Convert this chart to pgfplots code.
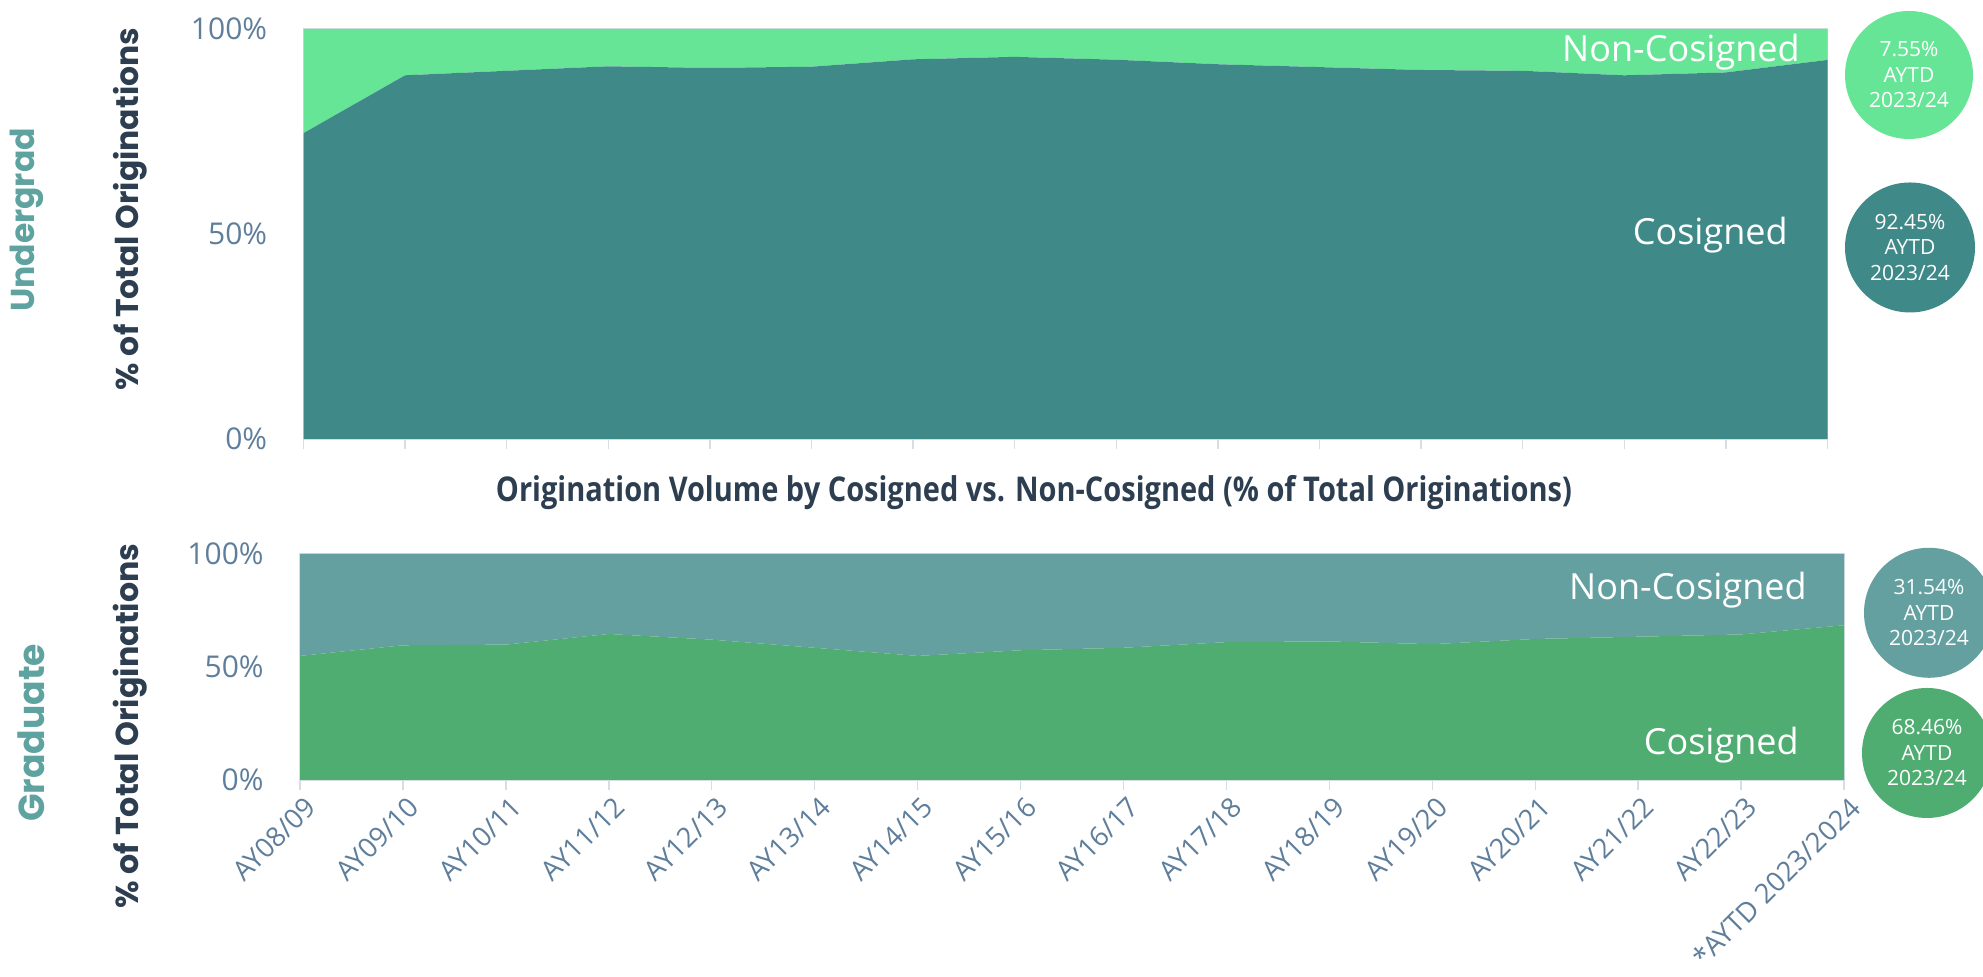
\documentclass[border=0pt]{standalone}
\usepackage{pgfplots}
\pgfplotsset{compat=1.18}
\usepackage{fontspec}
\setmainfont{Open Sans}
\newfontfamily\headfont{Open Sans}[FakeStretch=0.85]
\newfontfamily\sidefont{Poppins}
\definecolor{ncTop}{HTML}{67E597}
\definecolor{cTop}{HTML}{3F8989}
\definecolor{ncBot}{HTML}{64A0A0}
\definecolor{cBot}{HTML}{4FAD72}
\definecolor{tickc}{HTML}{5E7E9B}
\definecolor{titlec}{HTML}{2C3E50}
\definecolor{sidec}{HTML}{5FA3A0}
\definecolor{gridc}{HTML}{D5DDE5}
\pgfplotsset{
  ogstyle/.style={
    scale only axis, xmin=0, xmax=15, ymin=0, ymax=100,
    enlargelimits=false,
    axis line style={draw=gridc, line width=0.7pt},
    stack plots=y,
    ytick={0,50,100}, yticklabels={0\%,50\%,100\%},
    ytick style={draw=none},
    yticklabel style={font=\fontsize{15}{15}\selectfont, text=tickc, anchor=east, inner sep=0pt, xshift=-13pt},
    xtick={0,...,15},
    xtick pos=bottom, tick align=outside, major tick length=5pt,
    xtick style={draw=gridc, line width=0.7pt},
    ytick pos=left,
  }
}
\begin{document}
\begin{tikzpicture}
\useasboundingbox (0pt,0pt) rectangle (991.5pt,488.5pt);

% ---------- Undergrad ----------
\begin{axis}[ogstyle, at={(151.75pt,269pt)}, anchor=south west, width=762pt, height=205pt,
  xticklabels={}]
\addplot[fill=cTop, draw=none] coordinates {
 (0,74.6) (1,88.7) (2,89.8) (3,90.9) (4,90.5) (5,90.8) (6,92.6) (7,93.2)
 (8,92.5) (9,91.4) (10,90.7) (11,90.0) (12,89.8) (13,88.7) (14,89.4) (15,92.45)} \closedcycle;
\addplot[fill=ncTop, draw=none] coordinates {
 (0,25.4) (1,11.3) (2,10.2) (3,9.1) (4,9.5) (5,9.2) (6,7.4) (7,6.8)
 (8,7.5) (9,8.6) (10,9.3) (11,10.0) (12,10.2) (13,11.3) (14,10.6) (15,7.55)} \closedcycle;
\end{axis}

% ---------- Graduate ----------
\begin{axis}[ogstyle, at={(150pt,98.5pt)}, anchor=south west, width=772pt, height=113pt,
  xticklabels={AY08/09,AY09/10,AY10/11,AY11/12,AY12/13,AY13/14,AY14/15,AY15/16,AY16/17,AY17/18,AY18/19,AY19/20,AY20/21,AY21/22,AY22/23,*AYTD 2023/2024},
  xticklabel style={rotate=45, anchor=north east, inner sep=0pt, font=\fontsize{13.7}{13.7}\selectfont, text=tickc, xshift=-0.5pt, yshift=-3pt}]
\addplot[fill=cBot, draw=none] coordinates {
 (0,54.9) (1,59.6) (2,59.9) (3,64.6) (4,62.1) (5,58.5) (6,54.9) (7,57.4)
 (8,58.5) (9,61.0) (10,61.3) (11,60.1) (12,62.4) (13,63.4) (14,64.4) (15,68.46)} \closedcycle;
\addplot[fill=ncBot, draw=none] coordinates {
 (0,45.1) (1,40.4) (2,40.1) (3,35.4) (4,37.9) (5,41.5) (6,45.1) (7,42.6)
 (8,41.5) (9,39.0) (10,38.7) (11,39.9) (12,37.6) (13,36.6) (14,35.6) (15,31.54)} \closedcycle;
\end{axis}

% ---------- texts ----------
\node[text=titlec] at (517pt,242pt) {\resizebox{538pt}{!}{\headfont\bfseries Origination Volume by Cosigned vs. Non-Cosigned (\% of Total Originations)}};

\node[rotate=90, text=sidec] at (13.5pt,378.5pt) {\resizebox{92pt}{!}{\sidefont\bfseries Undergrad}};
\node[rotate=90, text=sidec] at (15.5pt,122pt) {\resizebox{89pt}{!}{\sidefont\bfseries Graduate}};
\node[rotate=90, text=titlec] at (65pt,384pt) {\resizebox{181pt}{!}{\sidefont\bfseries \% of Total Originations}};
\node[rotate=90, text=titlec] at (65pt,125.5pt) {\resizebox{182.5pt}{!}{\sidefont\bfseries \% of Total Originations}};

\tikzset{biglab/.style={anchor=base east, text=white, inner sep=0pt, font=\fontsize{18}{18}\selectfont}}
\node[biglab] at (900pt,457.5pt) {Non-Cosigned};
\node[biglab] at (894pt,366pt) {Cosigned};
\node[biglab] at (903.5pt,188.5pt) {Non-Cosigned};
\node[biglab] at (899.5pt,111pt) {Cosigned};

% ---------- circles ----------
\fill[ncTop] (954.5pt,451pt) circle[radius=32pt];
\fill[cTop] (955pt,364.75pt) circle[radius=32.5pt];
\fill[ncBot] (964.5pt,182.1pt) circle[radius=32.5pt];
\fill[cBot] (963.5pt,112pt) circle[radius=32.5pt];
\tikzset{circtext/.style={text=white, align=center, inner sep=0pt, font=\fontsize{10.5}{12.75}\selectfont}}
\node[circtext] at (954.5pt,451pt) {7.55\%\\AYTD\\2023/24};
\node[circtext] at (955pt,364.75pt) {92.45\%\\AYTD\\2023/24};
\node[circtext] at (964.5pt,182.1pt) {31.54\%\\AYTD\\2023/24};
\node[circtext] at (963.5pt,112pt) {68.46\%\\AYTD\\2023/24};
\end{tikzpicture}
\end{document}
